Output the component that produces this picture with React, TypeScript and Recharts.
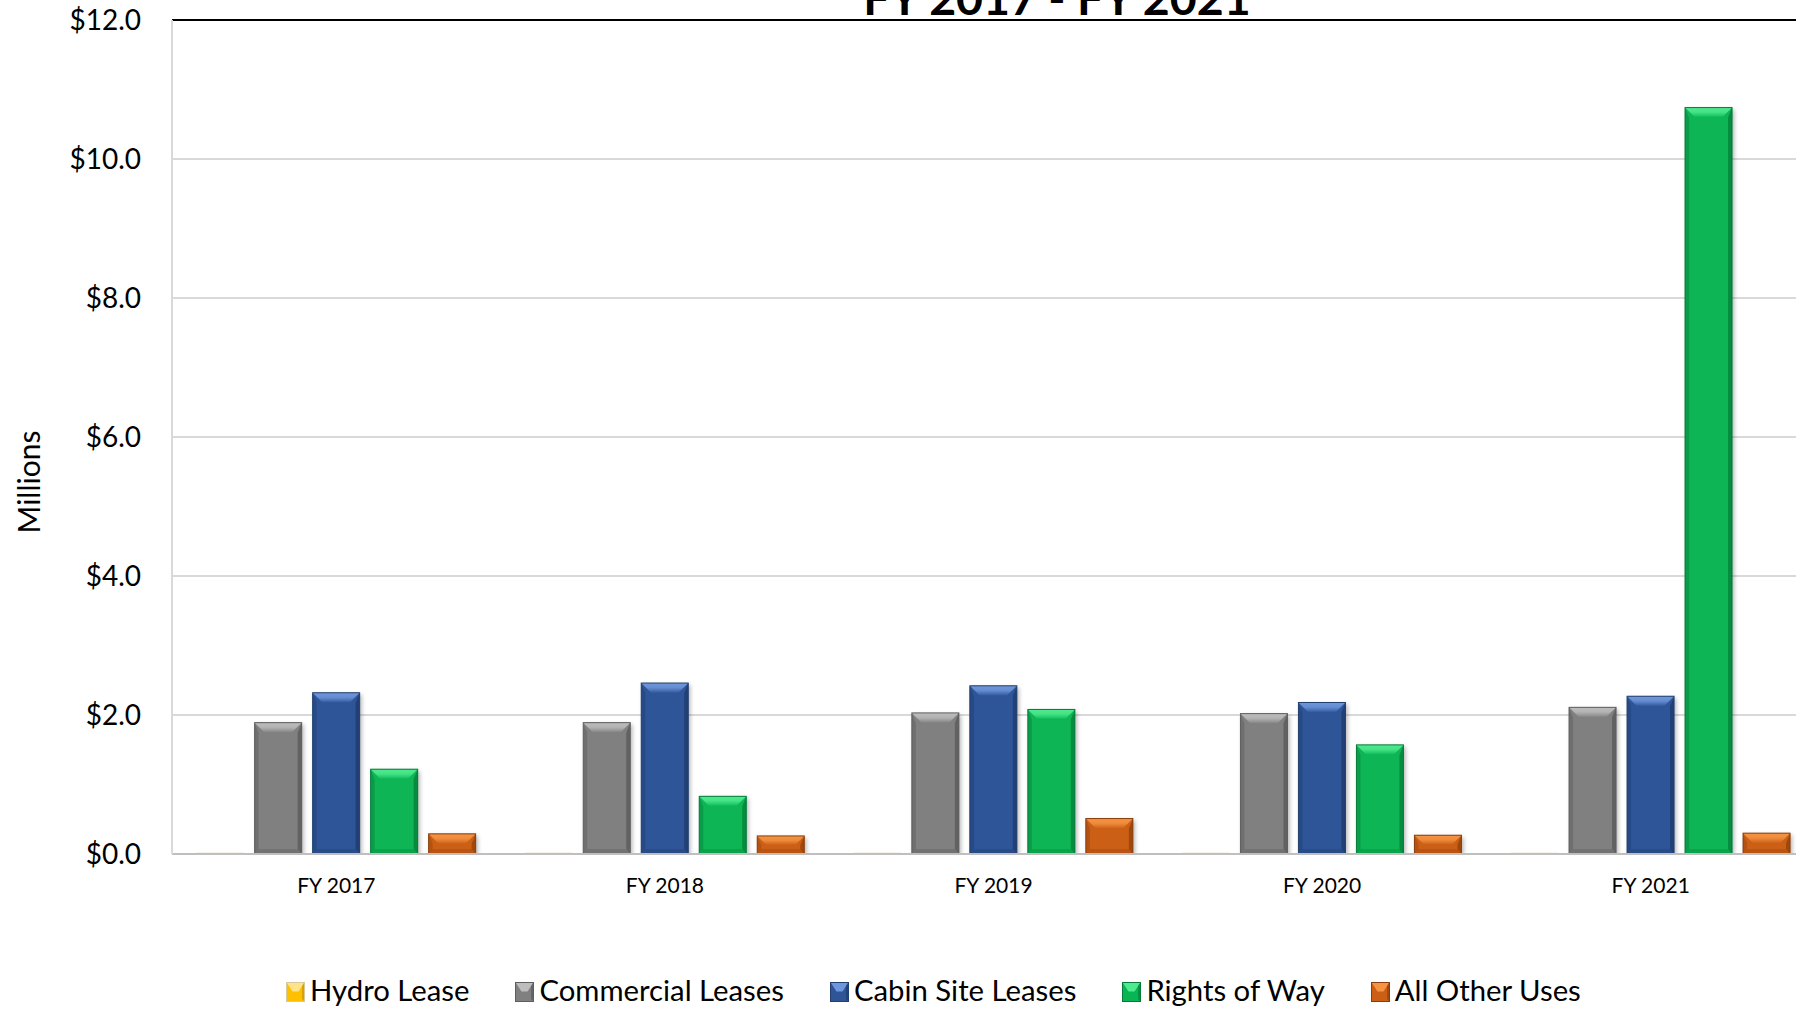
import React from 'react';
import { BarChart, Bar, XAxis, YAxis, CartesianGrid, ReferenceLine } from 'recharts';

// Revenue by land-use category, in millions of dollars
const years = ['FY 2017', 'FY 2018', 'FY 2019', 'FY 2020', 'FY 2021'];
const hydroLease = [0.01, 0.01, 0.01, 0.01, 0.01];
const commercialLeases = [1.89, 1.89, 2.03, 2.02, 2.11];
const cabinSiteLeases = [2.32, 2.46, 2.42, 2.18, 2.27];
const rightsOfWay = [1.22, 0.83, 2.08, 1.57, 10.74];
const allOtherUses = [0.29, 0.26, 0.51, 0.27, 0.3];
const yTicks = [0, 2, 4, 6, 8, 10, 12];
const chartTitle = 'FY 2017 - FY 2021';
const yAxisTitle = 'Millions';

type Palette = { base: string; light: string; dark: string; edge: string };

const series: { key: string; name: string; values: number[]; palette: Palette }[] = [
  { key: 'hydro', name: 'Hydro Lease', values: hydroLease, palette: { base: '#FFC000', light: '#FFE38A', dark: '#C99400', edge: '#D8C89A' } },
  { key: 'commercial', name: 'Commercial Leases', values: commercialLeases, palette: { base: '#808080', light: '#BDBDBD', dark: '#5A5A5A', edge: '#5E5E5E' } },
  { key: 'cabin', name: 'Cabin Site Leases', values: cabinSiteLeases, palette: { base: '#2F5597', light: '#6F97DD', dark: '#1F3B6E', edge: '#22406F' } },
  { key: 'rights', name: 'Rights of Way', values: rightsOfWay, palette: { base: '#07B554', light: '#4EEB8E', dark: '#05813B', edge: '#067A3A' } },
  { key: 'other', name: 'All Other Uses', values: allOtherUses, palette: { base: '#CC5F16', light: '#F69443', dark: '#94420A', edge: '#8A3E0C' } },
];

const data = years.map((year, i) => {
  const row: Record<string, string | number> = { year };
  series.forEach((s) => {
    row[s.key] = s.values[i];
  });
  return row;
});

const FONT = 'Lato, "Noto Sans", sans-serif';

function BevelBar(props: any) {
  const { x, y, width, height, pal, sid } = props;
  if (!(width > 0) || !(height > 0)) return null;
  const w = width;
  const h = height;
  const b = Math.min(10, h / 2, w / 2);
  const s = Math.min(4, w / 4, h / 2);
  const bb = Math.min(5, h / 3);
  return (
    <g>
      <rect x={x} y={y} width={w} height={h} fill={pal.base} filter="url(#barShadow)" />
      <polygon
        points={`${x},${y} ${x + s},${y + b} ${x + s},${y + h - bb} ${x},${y + h}`}
        fill={pal.dark}
        fillOpacity={0.45}
      />
      <polygon
        points={`${x + w},${y} ${x + w - s},${y + b} ${x + w - s},${y + h - bb} ${x + w},${y + h}`}
        fill={pal.dark}
        fillOpacity={0.8}
      />
      <polygon
        points={`${x},${y + h} ${x + w},${y + h} ${x + w - s},${y + h - bb} ${x + s},${y + h - bb}`}
        fill={pal.dark}
        fillOpacity={0.35}
      />
      <polygon
        points={`${x},${y} ${x + w},${y} ${x + w - b},${y + b} ${x + b},${y + b}`}
        fill={`url(#top-${sid})`}
      />
      <rect x={x} y={y} width={w} height={h} fill="none" stroke={pal.edge} strokeWidth={1} />
    </g>
  );
}

function LegendIcon({ pal }: { pal: Palette }) {
  return (
    <svg width={19} height={20} style={{ display: 'block' }}>
      <rect x={0.5} y={0.5} width={18} height={19} fill={pal.base} stroke={pal.edge} strokeWidth={1} />
      <polygon points="1,1 18,1 12.5,9.5 6.5,9.5" fill={pal.light} />
      <polygon points="18,1 18,19 16,17 16,4" fill={pal.dark} fillOpacity={0.7} />
    </svg>
  );
}

export default function App() {
  return (
    <div
      style={{
        position: 'absolute',
        left: 0,
        top: 0,
        width: 1796,
        height: 1010,
        overflow: 'hidden',
        background: '#ffffff',
        fontFamily: FONT,
      }}
    >
      <BarChart
        width={1830}
        height={1010}
        data={data}
        margin={{ top: 20, right: 15, bottom: 96, left: 0 }}
        barCategoryGap="7.5%"
        barGap={11}
        style={{ fontFamily: FONT }}
      >
        <defs>
          <filter id="barShadow" x="-30%" y="-10%" width="160%" height="130%">
            <feDropShadow dx={2} dy={2} stdDeviation={2} floodColor="#000" floodOpacity={0.3} />
          </filter>
          {series.map((s) => (
            <linearGradient key={s.key} id={`top-${s.key}`} x1="0" y1="0" x2="0" y2="1">
              <stop offset="0%" stopColor={s.palette.light} />
              <stop offset="45%" stopColor={s.palette.light} stopOpacity={0.85} />
              <stop offset="100%" stopColor={s.palette.base} />
            </linearGradient>
          ))}
        </defs>
        <CartesianGrid vertical={false} stroke="#d9d9d9" strokeWidth={2} />
        <XAxis
          dataKey="year"
          height={60}
          interval={0}
          axisLine={{ stroke: '#bfbfbf', strokeWidth: 2 }}
          tickLine={false}
          tickSize={0}
          tickMargin={24}
          tick={{ fontSize: 21, fill: '#000', fontFamily: FONT }}
        />
        <YAxis
          width={172}
          domain={[0, 12]}
          ticks={yTicks}
          interval={0}
          allowDataOverflow
          tickFormatter={(v: number) => `$${v.toFixed(1)}`}
          axisLine={{ stroke: '#d9d9d9', strokeWidth: 2 }}
          tickLine={false}
          tickSize={0}
          tickMargin={31}
          tick={{ fontSize: 28, fill: '#000', fontFamily: FONT }}
        />
        <ReferenceLine y={12} stroke="#000" strokeWidth={2} />
        {series.map((s) => (
          <Bar
            key={s.key}
            dataKey={s.key}
            name={s.name}
            fill={s.palette.base}
            isAnimationActive={false}
            shape={(p: any) => <BevelBar {...p} pal={s.palette} sid={s.key} />}
          />
        ))}
      </BarChart>

      <svg
        width={1796}
        height={1010}
        style={{ position: 'absolute', left: 0, top: 0, pointerEvents: 'none' }}
      >
        <text x={1057} y={15} textAnchor="middle" fontSize={46.5} fontWeight={700} fill="#000" fontFamily={FONT}>
          {chartTitle}
        </text>
        <text transform="translate(40,482) rotate(-90)" textAnchor="middle" fontSize={30} fill="#000" fontFamily={FONT}>
          {yAxisTitle}
        </text>
      </svg>

      <div
        style={{
          position: 'absolute',
          left: 286,
          top: 972,
          display: 'flex',
          gap: 46,
          fontSize: 29.3,
          lineHeight: 1.2,
          color: '#000',
          whiteSpace: 'nowrap',
        }}
      >
        {series.map((s) => (
          <div key={s.key} style={{ display: 'flex', alignItems: 'flex-start' }}>
            <div style={{ marginTop: 10, marginRight: 5 }}>
              <LegendIcon pal={s.palette} />
            </div>
            <span>{s.name}</span>
          </div>
        ))}
      </div>
    </div>
  );
}
